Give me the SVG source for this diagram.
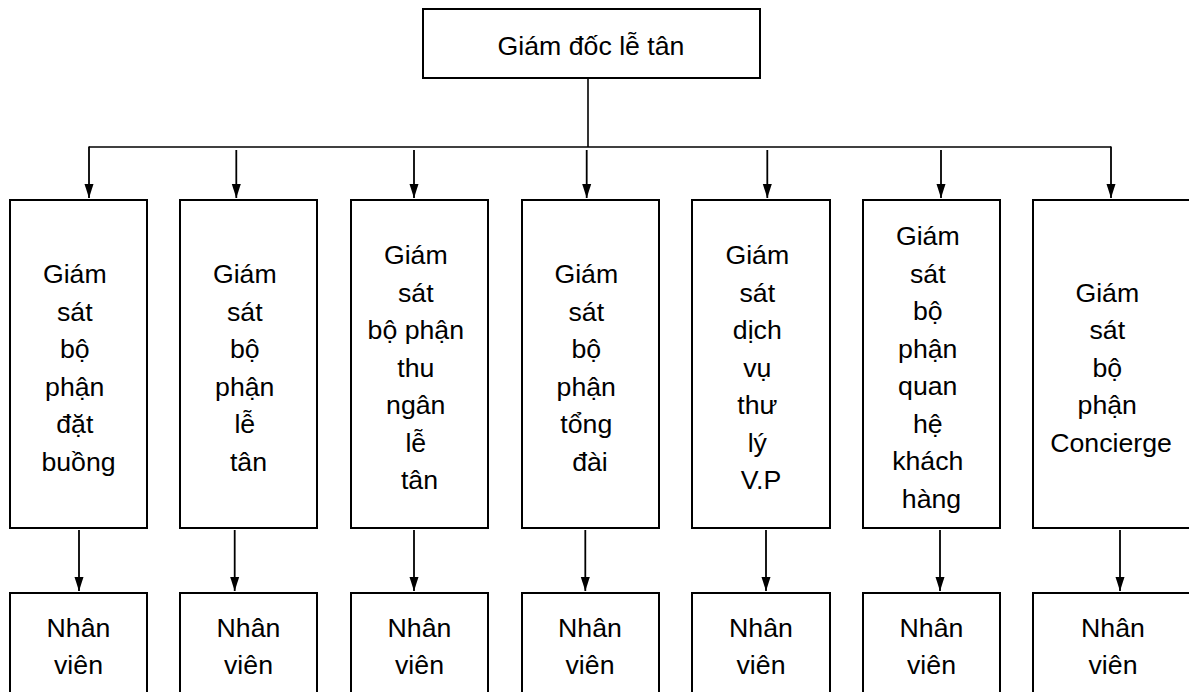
<svg xmlns="http://www.w3.org/2000/svg" width="1189" height="692" viewBox="0 0 1189 692">
  <style>
    .box { fill: #ffffff; stroke: #000000; stroke-width: 2; }
    .lbl { font-family: "Liberation Sans", Arial, sans-serif; font-size: 26.7px; fill: #000000; text-anchor: middle; }
    .wire { fill: none; stroke: #000000; stroke-width: 1.6; }
    .arrow { fill: none; stroke: #000000; stroke-width: 1.8; marker-end: url(#head); }
  </style>
  <defs>
    <marker id="head" markerUnits="userSpaceOnUse" markerWidth="14" markerHeight="10" refX="14" refY="5" orient="auto">
      <path d="M0,0.5 L14,5 L0,9.5 z" fill="#000000"/>
    </marker>
  </defs>
  <rect width="1189" height="692" fill="#ffffff"/>

  <!-- Connectors -->
  <g id="connectors">
    <line class="wire" x1="588" y1="78" x2="588" y2="147"/>
    <line class="wire" x1="89" y1="147" x2="1111" y2="147"/>
    <line class="arrow" x1="89" y1="146.5" x2="89" y2="198"/>
    <line class="arrow" x1="236.3" y1="150" x2="236.3" y2="198"/>
    <line class="arrow" x1="414" y1="150" x2="414" y2="198"/>
    <line class="arrow" x1="586.7" y1="150" x2="586.7" y2="198"/>
    <line class="arrow" x1="767.3" y1="150" x2="767.3" y2="198"/>
    <line class="arrow" x1="941" y1="150" x2="941" y2="198"/>
    <line class="arrow" x1="1111" y1="146.5" x2="1111" y2="198"/>

    <line class="arrow" x1="79" y1="530" x2="79" y2="591"/>
    <line class="arrow" x1="234.7" y1="530" x2="234.7" y2="591"/>
    <line class="arrow" x1="414" y1="530" x2="414" y2="591"/>
    <line class="arrow" x1="585.3" y1="530" x2="585.3" y2="591"/>
    <line class="arrow" x1="766" y1="530" x2="766" y2="591"/>
    <line class="arrow" x1="940" y1="530" x2="940" y2="591"/>
    <line class="arrow" x1="1120" y1="530" x2="1120" y2="591"/>
  </g>

  <!-- Director -->
  <g id="director">
    <rect class="box" x="423" y="9" width="337" height="69"/>
    <text class="lbl" x="591" y="55">Giám đốc lễ tân</text>
  </g>

  <!-- Supervisors -->
  <g id="sup-booking">
    <rect class="box" x="10" y="200" width="137" height="328"/>
    <text class="lbl">
      <tspan x="78.5" y="283.3">Giám</tspan>
      <tspan x="78.5" y="320.8">sát</tspan>
      <tspan x="78.5" y="358.3">bộ</tspan>
      <tspan x="78.5" y="395.8">phận</tspan>
      <tspan x="78.5" y="433.3">đặt</tspan>
      <tspan x="78.5" y="470.8">buồng</tspan>
    </text>
  </g>

  <g id="sup-reception">
    <rect class="box" x="180" y="200" width="137" height="328"/>
    <text class="lbl">
      <tspan x="248.5" y="283.3">Giám</tspan>
      <tspan x="248.5" y="320.8">sát</tspan>
      <tspan x="248.5" y="358.3">bộ</tspan>
      <tspan x="248.5" y="395.8">phận</tspan>
      <tspan x="248.5" y="433.3">lễ</tspan>
      <tspan x="248.5" y="470.8">tân</tspan>
    </text>
  </g>

  <g id="sup-cashier">
    <rect class="box" x="351" y="200" width="137" height="328"/>
    <text class="lbl">
      <tspan x="419.5" y="264">Giám</tspan>
      <tspan x="419.5" y="301.5">sát</tspan>
      <tspan x="419.5" y="339">bộ phận</tspan>
      <tspan x="419.5" y="376.5">thu</tspan>
      <tspan x="419.5" y="414">ngân</tspan>
      <tspan x="419.5" y="451.5">lễ</tspan>
      <tspan x="419.5" y="489">tân</tspan>
    </text>
  </g>

  <g id="sup-switchboard">
    <rect class="box" x="522" y="200" width="137" height="328"/>
    <text class="lbl">
      <tspan x="590" y="283.3">Giám</tspan>
      <tspan x="590" y="320.8">sát</tspan>
      <tspan x="590" y="358.3">bộ</tspan>
      <tspan x="590" y="395.8">phận</tspan>
      <tspan x="590" y="433.3">tổng</tspan>
      <tspan x="590" y="470.8">đài</tspan>
    </text>
  </g>

  <g id="sup-secretary">
    <rect class="box" x="692" y="200" width="138" height="328"/>
    <text class="lbl">
      <tspan x="761" y="264">Giám</tspan>
      <tspan x="761" y="301.5">sát</tspan>
      <tspan x="761" y="339">dịch</tspan>
      <tspan x="761" y="376.5">vụ</tspan>
      <tspan x="761" y="414">thư</tspan>
      <tspan x="761" y="451.5">lý</tspan>
      <tspan x="761" y="489">V.P</tspan>
    </text>
  </g>

  <g id="sup-guest-relations">
    <rect class="box" x="863" y="200" width="137" height="328"/>
    <text class="lbl">
      <tspan x="931.5" y="245">Giám</tspan>
      <tspan x="931.5" y="282.5">sát</tspan>
      <tspan x="931.5" y="320">bộ</tspan>
      <tspan x="931.5" y="357.5">phận</tspan>
      <tspan x="931.5" y="395">quan</tspan>
      <tspan x="931.5" y="432.5">hệ</tspan>
      <tspan x="931.5" y="470">khách</tspan>
      <tspan x="931.5" y="507.5">hàng</tspan>
    </text>
  </g>

  <g id="sup-concierge">
    <rect class="box" x="1033" y="200" width="170" height="328"/>
    <text class="lbl">
      <tspan x="1111" y="301.7">Giám</tspan>
      <tspan x="1111" y="339.2">sát</tspan>
      <tspan x="1111" y="376.7">bộ</tspan>
      <tspan x="1111" y="414.2">phận</tspan>
      <tspan x="1111" y="451.7">Concierge</tspan>
    </text>
  </g>

  <!-- Staff -->
  <g id="staff-1">
    <rect class="box" x="10" y="593" width="137" height="120"/>
    <text class="lbl"><tspan x="78.5" y="636.7">Nhân</tspan><tspan x="78.5" y="674.3">viên</tspan></text>
  </g>
  <g id="staff-2">
    <rect class="box" x="180" y="593" width="137" height="120"/>
    <text class="lbl"><tspan x="248.5" y="636.7">Nhân</tspan><tspan x="248.5" y="674.3">viên</tspan></text>
  </g>
  <g id="staff-3">
    <rect class="box" x="351" y="593" width="137" height="120"/>
    <text class="lbl"><tspan x="419.5" y="636.7">Nhân</tspan><tspan x="419.5" y="674.3">viên</tspan></text>
  </g>
  <g id="staff-4">
    <rect class="box" x="522" y="593" width="137" height="120"/>
    <text class="lbl"><tspan x="590" y="636.7">Nhân</tspan><tspan x="590" y="674.3">viên</tspan></text>
  </g>
  <g id="staff-5">
    <rect class="box" x="692" y="593" width="138" height="120"/>
    <text class="lbl"><tspan x="761" y="636.7">Nhân</tspan><tspan x="761" y="674.3">viên</tspan></text>
  </g>
  <g id="staff-6">
    <rect class="box" x="863" y="593" width="137" height="120"/>
    <text class="lbl"><tspan x="931.5" y="636.7">Nhân</tspan><tspan x="931.5" y="674.3">viên</tspan></text>
  </g>
  <g id="staff-7">
    <rect class="box" x="1033" y="593" width="170" height="120"/>
    <text class="lbl"><tspan x="1113" y="636.7">Nhân</tspan><tspan x="1113" y="674.3">viên</tspan></text>
  </g>
</svg>
